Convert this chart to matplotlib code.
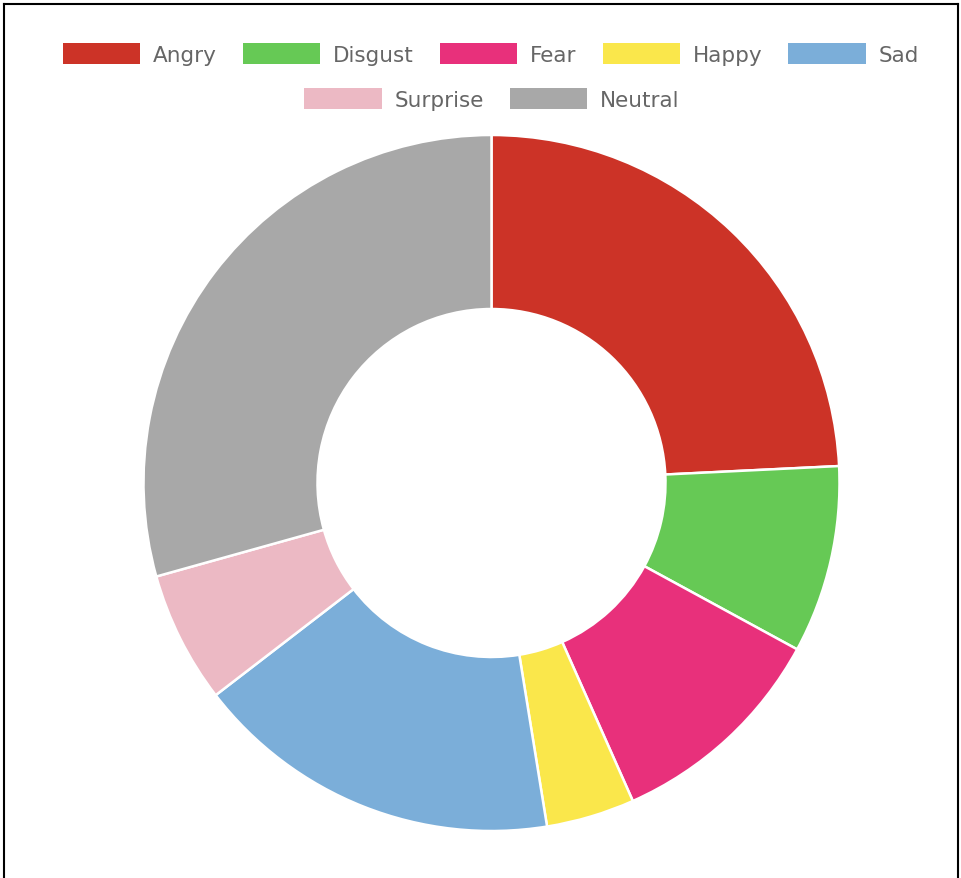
import matplotlib.pyplot as plt
from matplotlib.patches import Patch
from matplotlib.lines import Line2D

# Emotion shares (percent), read from the donut
labels = ['Angry', 'Disgust', 'Fear', 'Happy', 'Sad', 'Surprise', 'Neutral']
values = [24.2, 8.7, 10.4, 4.1, 17.1, 6.1, 29.3]
colors = ['#cc3327', '#66c955', '#e8307b', '#fae74b', '#7baed9', '#ecb9c4', '#a8a8a8']

W, H = 962, 879
fig = plt.figure(figsize=(W / 100, H / 100), dpi=100)

# donut: centre at (491, 484) px, radius 348 px
cx, cy, R = 491.5, 484, 348
ax = fig.add_axes([(cx - R) / W, (H - cy - R) / H, 2 * R / W, 2 * R / H])
ax.pie(values, colors=colors, startangle=90, counterclock=False, radius=1,
       wedgeprops=dict(width=0.5, edgecolor='white', linewidth=1.8))
ax.set_xlim(-1, 1)
ax.set_ylim(-1, 1)
ax.axis('off')

# legend in two centred rows
handles = [Patch(facecolor=c, edgecolor='none') for c in colors]
common = dict(frameon=False, fontsize=15.5, handlelength=3.6, handleheight=1.1,
              handletextpad=0.6, columnspacing=1.2, labelcolor='#666666',
              loc='center')
fig.legend(handles[:5], labels[:5], ncol=5, bbox_to_anchor=(491 / W, 1 - 55 / H), **common)
fig.legend(handles[5:], labels[5:], ncol=2, bbox_to_anchor=(492 / W, 1 - 100 / H), **common)

# black frame on left, top and right
for xs, ys in [([4 / W, 4 / W], [0, 1 - 5 / H]),
               ([4 / W, 958 / W], [1 - 5 / H, 1 - 5 / H]),
               ([958 / W, 958 / W], [0, 1 - 5 / H])]:
    fig.add_artist(Line2D(xs, ys, color='black', linewidth=1.5, transform=fig.transFigure))

fig.savefig('out.png', dpi=100)
